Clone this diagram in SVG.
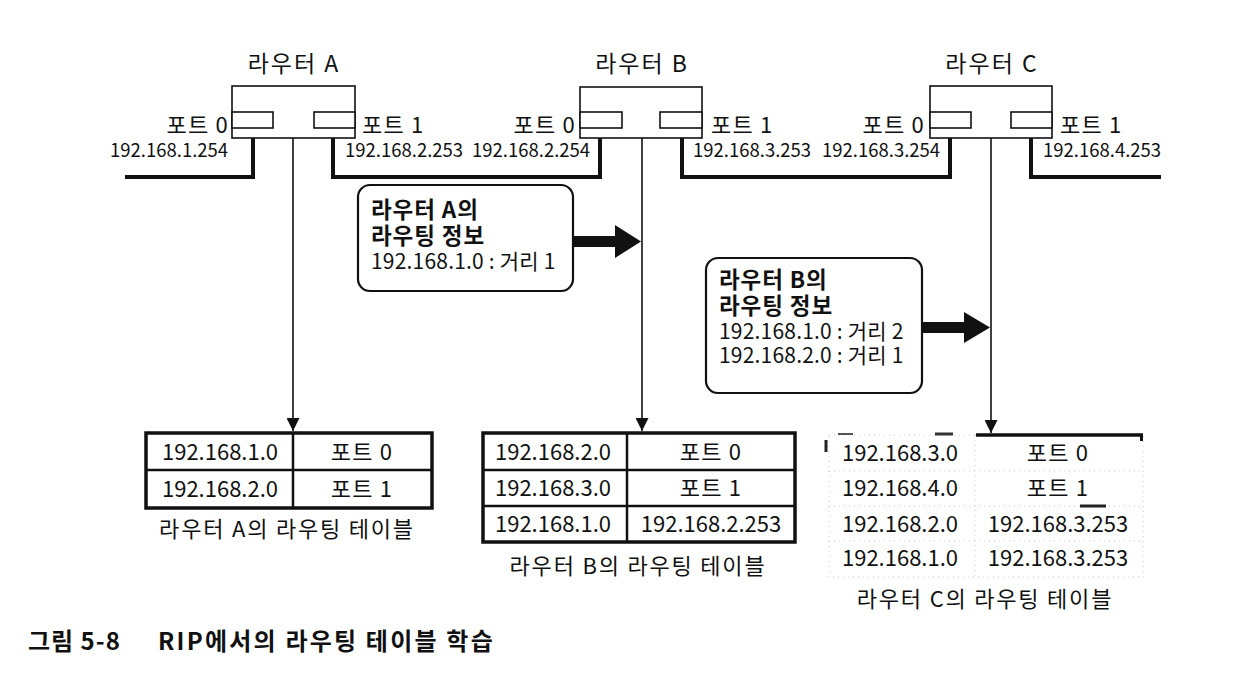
<svg xmlns="http://www.w3.org/2000/svg" width="1254" height="678" viewBox="0 0 1254 678">
<style>
text{font-family:"Noto Sans CJK KR","Noto Sans",sans-serif;fill:#111}
.lbl{font-size:23px;letter-spacing:2px}
.port{font-size:22px;letter-spacing:1.2px}
.ip{font-size:18.5px}
.cb{font-size:22.5px;font-weight:bold;letter-spacing:0.9px}
.ct{font-size:21px;letter-spacing:0.2px}
.tt{font-size:22px}
.tp{font-size:22px;letter-spacing:1.2px}
.cap{font-size:22px;letter-spacing:1.8px}
.box{fill:#fff;stroke:#111;stroke-width:1.6}
.port-r{fill:#fff;stroke:#111;stroke-width:1.6}
.wire{fill:none;stroke:#111;stroke-width:4}
.thin{fill:none;stroke:#111;stroke-width:1.6}
.tbl{fill:#fff;stroke:#111;stroke-width:3.5}
.div{stroke:#111;stroke-width:2.5}
.faint{stroke:#c8c8c8;stroke-width:1;stroke-dasharray:1 4;fill:none}
.callout{fill:#fff;stroke:#111;stroke-width:2.2}
</style>
<defs>
<marker id="ah" markerWidth="14" markerHeight="13" refX="13" refY="6.5" orient="auto" markerUnits="userSpaceOnUse">
<path d="M0,0 L13,6.5 L0,13 Z" fill="#111"/>
</marker>
</defs>
<rect width="1254" height="678" fill="#fff"/>

<g id="connectors">
<path class="wire" d="M125,177 H253 V121"/>
<path class="wire" d="M333,121 V177 H600 V121"/>
<path class="wire" d="M682,121 V177 H950 V121"/>
<path class="wire" d="M1031,121 V177 H1161"/>
<line class="thin" x1="293" y1="122" x2="293" y2="431" marker-end="url(#ah)"/>
<line class="thin" x1="642" y1="122" x2="642" y2="431" marker-end="url(#ah)"/>
<line class="thin" x1="991" y1="122" x2="991" y2="433" marker-end="url(#ah)"/>
<path d="M573,236 H615 V225 L641,241.5 L615,258 V247 H573 Z" fill="#111"/>
<path d="M922,322 H964 V312 L990,327.5 L964,343 V333 H922 Z" fill="#111"/>
</g>

<g id="routerA">
<text class="lbl" x="294" y="72" text-anchor="middle">라우터 A</text>
<rect class="box" x="232" y="86" width="123" height="52"/>
<rect class="port-r" x="232" y="112" width="41" height="16"/>
<rect class="port-r" x="314" y="112" width="41" height="16"/>
<text class="port" x="229" y="133" text-anchor="end">포트 0</text>
<text class="port" x="362" y="133">포트 1</text>
<text class="ip" x="110" y="157">192.168.1.254</text>
<text class="ip" x="345" y="157">192.168.2.253</text>
</g>

<g id="routerB">
<text class="lbl" x="642" y="72" text-anchor="middle">라우터 B</text>
<rect class="box" x="580" y="87" width="122" height="51"/>
<rect class="port-r" x="580" y="112" width="42" height="16"/>
<rect class="port-r" x="660" y="112" width="42" height="16"/>
<text class="port" x="576" y="133" text-anchor="end">포트 0</text>
<text class="port" x="711" y="133">포트 1</text>
<text class="ip" x="472" y="157">192.168.2.254</text>
<text class="ip" x="693" y="157">192.168.3.253</text>
</g>

<g id="routerC">
<text class="lbl" x="992" y="72" text-anchor="middle">라우터 C</text>
<rect class="box" x="930" y="86" width="122" height="52"/>
<rect class="port-r" x="930" y="112" width="41" height="16"/>
<rect class="port-r" x="1011" y="112" width="41" height="16"/>
<text class="port" x="925" y="133" text-anchor="end">포트 0</text>
<text class="port" x="1060" y="133">포트 1</text>
<text class="ip" x="822" y="157">192.168.3.254</text>
<text class="ip" x="1043" y="157">192.168.4.253</text>
</g>

<g id="infoA">
<rect class="callout" x="358" y="185" width="215" height="106" rx="12"/>
<text class="cb" x="371" y="218">라우터 A의</text>
<text class="cb" x="371" y="244">라우팅 정보</text>
<text class="ct" x="371" y="269">192.168.1.0 : 거리 1</text>
</g>

<g id="infoB">
<rect class="callout" x="706" y="258" width="216" height="135" rx="12"/>
<text class="cb" x="719" y="288">라우터 B의</text>
<text class="cb" x="719" y="314">라우팅 정보</text>
<text class="ct" x="719" y="339">192.168.1.0 : 거리 2</text>
<text class="ct" x="719" y="363">192.168.2.0 : 거리 1</text>
</g>

<g id="tableA">
<rect class="tbl" x="146" y="433" width="286" height="75"/>
<line class="div" x1="146" y1="470" x2="432" y2="470"/>
<line class="div" x1="293" y1="433" x2="293" y2="508"/>
<text class="tt" x="220" y="460" text-anchor="middle">192.168.1.0</text>
<text class="tt" x="220" y="497" text-anchor="middle">192.168.2.0</text>
<text class="tp" x="362" y="460" text-anchor="middle">포트 0</text>
<text class="tp" x="362" y="497" text-anchor="middle">포트 1</text>
<text class="cap" x="287" y="537" text-anchor="middle">라우터 A의 라우팅 테이블</text>
</g>

<g id="tableB">
<rect class="tbl" x="483" y="433" width="312" height="109"/>
<line class="div" x1="483" y1="470" x2="795" y2="470"/>
<line class="div" x1="483" y1="506" x2="795" y2="506"/>
<line class="div" x1="627" y1="433" x2="627" y2="542"/>
<text class="tt" x="553" y="460" text-anchor="middle">192.168.2.0</text>
<text class="tt" x="553" y="496" text-anchor="middle">192.168.3.0</text>
<text class="tt" x="553" y="532" text-anchor="middle">192.168.1.0</text>
<text class="tp" x="711" y="460" text-anchor="middle">포트 0</text>
<text class="tp" x="711" y="496" text-anchor="middle">포트 1</text>
<text class="tt" x="711" y="532" text-anchor="middle">192.168.2.253</text>
<text class="cap" x="638" y="574" text-anchor="middle">라우터 B의 라우팅 테이블</text>
</g>

<g id="tableC">
<rect class="faint" x="829" y="435" width="314" height="142"/>
<line class="faint" x1="829" y1="471" x2="1143" y2="471"/>
<line class="faint" x1="829" y1="506" x2="1143" y2="506"/>
<line class="faint" x1="829" y1="541" x2="1143" y2="541"/>
<line class="faint" x1="975" y1="435" x2="975" y2="577"/>
<line stroke="#111" stroke-width="3.5" x1="976" y1="435" x2="1143" y2="435"/>
<line stroke="#111" stroke-width="3" x1="1141.5" y1="434" x2="1141.5" y2="441"/>
<line stroke="#555" stroke-width="2" x1="838" y1="434" x2="853" y2="434"/>
<line stroke="#333" stroke-width="3" x1="935" y1="434" x2="953" y2="434"/>
<line stroke="#222" stroke-width="3" x1="826" y1="440" x2="826" y2="452"/>
<line stroke="#222" stroke-width="3" x1="1080" y1="506" x2="1106" y2="506"/>
<text class="tt" x="900" y="461" text-anchor="middle">192.168.3.0</text>
<text class="tt" x="900" y="496" text-anchor="middle">192.168.4.0</text>
<text class="tt" x="900" y="532" text-anchor="middle">192.168.2.0</text>
<text class="tt" x="900" y="566" text-anchor="middle">192.168.1.0</text>
<text class="tp" x="1058" y="461" text-anchor="middle">포트 0</text>
<text class="tp" x="1058" y="496" text-anchor="middle">포트 1</text>
<text class="tt" x="1058" y="532" text-anchor="middle">192.168.3.253</text>
<text class="tt" x="1058" y="566" text-anchor="middle">192.168.3.253</text>
<text class="cap" x="985" y="607" text-anchor="middle">라우터 C의 라우팅 테이블</text>
</g>

<g id="title">
<text x="28" y="650" font-size="24" font-weight="bold" letter-spacing="1">그림 5-8</text>
<text x="158" y="650" font-size="24" font-weight="bold" letter-spacing="2.2">RIP에서의 라우팅 테이블 학습</text>
</g>
</svg>
